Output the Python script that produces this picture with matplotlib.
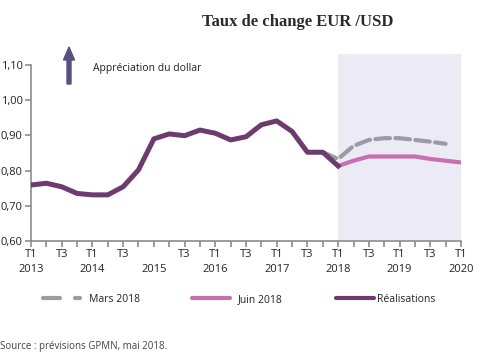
import matplotlib
matplotlib.use("Agg")
import matplotlib.pyplot as plt
import numpy as np

plt.rcParams['font.family'] = ['Open Sans', 'DejaVu Sans']

# Quarters 2013T1 .. 2020T1 (index 0..28)
quarters = ["T1\n2013", "T2", "T3", "T4", "T1\n2014", "T2", "T3", "T4",
            "\n2015", "T2", "T3", "T4", "T1\n2016", "T2", "T3", "T4",
            "T1\n2017", "T2", "T3", "T4", "T1\n2018", "T2", "T3", "T4",
            "T1\n2019", "T2", "T3", "T4", "T1\n2020"]
shown_labels = {0, 2, 4, 6, 8, 10, 12, 14, 16, 18, 20, 22, 24, 26, 28}

realisations = [0.759, 0.764, 0.754, 0.735, 0.731, 0.731, 0.754, 0.802,
                 0.890, 0.904, 0.899, 0.915, 0.906, 0.887, 0.896, 0.930,
                 0.941, 0.911, 0.852, 0.852, 0.813]
mars_start = 19
mars_2018 = [0.852, 0.833, 0.870, 0.887, 0.892, 0.892, 0.887, 0.882, 0.876]
juin_start = 20
juin_2018 = [0.813, 0.828, 0.840, 0.840, 0.840, 0.840, 0.833, 0.828, 0.823]

c_real = "#6E3B6E"
c_juin = "#C96FB0"
c_mars = "#9B9BA3"
c_axis = "#8C8C8C"

fig = plt.figure(figsize=(4.82, 3.56), dpi=100)
ax = fig.add_axes([31/482, 1-241/356, (461-31)/482, (241-54)/356])

ax.axvspan(20, 28, color="#ECEAF4", zorder=0, lw=0)

x_real = np.arange(len(realisations))
x_mars = np.arange(mars_start, mars_start + len(mars_2018))
x_juin = np.arange(juin_start, juin_start + len(juin_2018))

ax.plot(x_mars, mars_2018, color=c_mars, lw=3.0, dashes=(3.5, 1.3), solid_capstyle='round', dash_capstyle='round', zorder=2)
ax.plot(x_juin, juin_2018, color=c_juin, lw=3.0, solid_capstyle='round', zorder=3)
ax.plot(x_real, realisations, color=c_real, lw=3.6, solid_joinstyle='round', zorder=4)

ax.set_xlim(0, 28)
ax.set_ylim(0.60, 1.131)
ax.set_yticks([0.6, 0.7, 0.8, 0.9, 1.0, 1.1])
ax.set_yticklabels(["0,60", "0,70", "0,80", "0,90", "1,00", "1,10"])
ax.set_xticks(range(29))
ax.set_xticklabels([q if i in shown_labels else "" for i, q in enumerate(quarters)],
                   linespacing=1.4)

for s in ["top", "right"]:
    ax.spines[s].set_visible(False)
for s in ["left", "bottom"]:
    ax.spines[s].set_color(c_axis)
    ax.spines[s].set_linewidth(1.2)
ax.spines["left"].set_bounds(0.6, 1.1)
ax.tick_params(axis="both", colors=c_axis, length=4, width=1.2, labelcolor="#222222", labelsize=8, pad=2)

# Arrow and annotation
fig.add_artist(matplotlib.patches.FancyArrow(69/482, 1-84/356, 0, (84-47)/356, width=4/482,
                                             head_width=11/482, head_length=13/356,
                                             length_includes_head=True, color="#5A4F7E",
                                             transform=fig.transFigure))
fig.text(93/482, 1-71/356, "Appréciation du dollar", fontsize=7.5, color="#222222", va="baseline")

fig.text(298/482, 1-22/356, "Taux de change EUR /USD", fontsize=12, fontweight="bold",
         family="Liberation Serif", ha="center", va="center", color="#2A2A2A")

# Legend
ly = 1-298/356
lb = 1-302/356
fig.add_artist(matplotlib.lines.Line2D([43/482, 60/482], [ly, ly], color=c_mars, lw=3.0, solid_capstyle='round'))
fig.add_artist(matplotlib.lines.Line2D([75/482, 80/482], [ly, ly], color=c_mars, lw=3.0, solid_capstyle='round'))
fig.text(89/482, lb, "Mars 2018", fontsize=7.5, va="baseline", color="#222222")
fig.add_artist(matplotlib.lines.Line2D([192/482, 230/482], [ly, ly], color=c_juin, lw=3.0, solid_capstyle='round'))
fig.text(238/482, lb, "Juin 2018", fontsize=7.5, va="baseline", color="#222222")
fig.add_artist(matplotlib.lines.Line2D([336/482, 374/482], [ly, ly], color=c_real, lw=3.0, solid_capstyle='round'))
fig.text(377/482, lb, "Réalisations", fontsize=7.5, va="baseline", color="#222222")

fig.text(0, 1-347/356, "Source : prévisions GPMN, mai 2018.", fontsize=7, va="center", color="#444444")

fig.savefig("out.png", dpi=100)
